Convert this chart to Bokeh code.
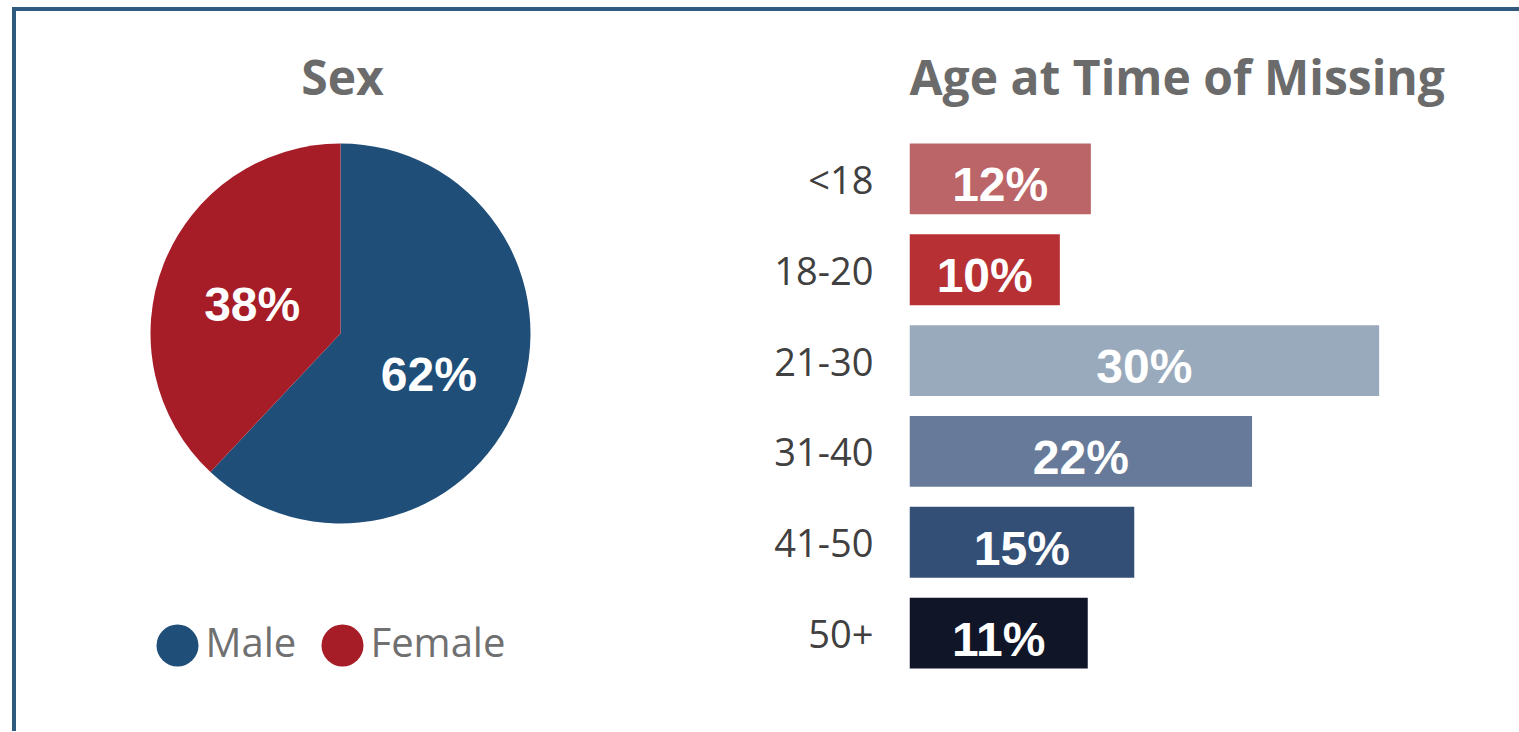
import math
from bokeh.plotting import figure
from bokeh.models import ColumnDataSource, Range1d, FactorRange
from bokeh.layouts import row
from bokeh.embed import file_html
from bokeh.resources import INLINE
from bokeh.core.properties import value

# ---------------- data ----------------
sex_categories = ["Male", "Female"]
sex_shares = [62, 38]
sex_labels = ["62%", "38%"]
sex_colors = ["#1F4E79", "#A61C27"]

age_groups = ["<18", "18-20", "21-30", "31-40", "41-50", "50+"]
age_shares = [11.7, 9.7, 30.3, 22.1, 14.5, 11.5]
age_labels = ["12%", "10%", "30%", "22%", "15%", "11%"]
age_colors = ["#BC6568", "#B73034", "#9AAABD", "#677A99", "#334F76", "#111528"]

# ---------------- style / layout ----------------
TITLE_COLOR = "#6B6B6B"
LEGEND_COLOR = "#707070"
CAT_COLOR = "#404040"
BORDER_COLOR = "#2E5A80"
H = 720
TOP, BOTTOM = 122, 53          # shared frame borders (row aligns frames)


def style_title(p, text, align):
    p.title.text = text
    p.title.text_font = "Open Sans"
    p.title.text_font_style = "bold"
    p.title.text_font_size = "48px"
    p.title.text_color = TITLE_COLOR
    p.title.align = align
    p.title.standoff = 50


# ---------------- pie ----------------
PIE_W = 700
PIE_RIGHT = 48
R = 190
CX, CY = 324, 322  # pie centre inside the figure (px from top-left)
pie = figure(width=PIE_W, height=H, output_backend="svg", toolbar_location=None,
             x_range=Range1d(-CX, PIE_W - PIE_RIGHT - CX),
             y_range=Range1d(-(H - BOTTOM - CY), CY - TOP),
             min_border_left=0, min_border_right=PIE_RIGHT,
             min_border_top=TOP, min_border_bottom=BOTTOM)
pie.axis.visible = False
pie.grid.visible = False
pie.outline_line_color = None
style_title(pie, "Sex", "center")

total = sum(sex_shares)
starts, ends, mids = [], [], []
acc = 0
for s in sex_shares:
    a0 = math.pi / 2 - 2 * math.pi * acc / total
    a1 = math.pi / 2 - 2 * math.pi * (acc + s) / total
    starts.append(a0)
    ends.append(a1)
    mids.append((a0 + a1) / 2)
    acc += s

LR = 95
pie_src = ColumnDataSource(dict(
    cat=sex_categories, share=sex_shares, label=sex_labels, color=sex_colors,
    start=starts, end=ends,
    lx=[LR * math.cos(m) for m in mids], ly=[LR * math.sin(m) for m in mids],
))
pie.wedge(x=0, y=0, radius=R, start_angle="start", end_angle="end", direction="clock",
          fill_color="color", line_color=None, source=pie_src)
pie.text(x="lx", y="ly", text="label", source=pie_src, text_color="white",
         text_font=value("Liberation Sans"), text_font_style="bold", text_font_size="48px",
         text_align="center", text_baseline="middle", y_offset=6)

LEG_X = [-163, 2]
LEG_Y = -312
leg_src = ColumnDataSource(dict(x=LEG_X, tx=[x + 28 for x in LEG_X], cat=sex_categories, color=sex_colors))
pie.scatter(x="x", y=LEG_Y, size=42, marker="circle", fill_color="color", line_color=None, source=leg_src)
pie.text(x="tx", y=LEG_Y, text="cat", source=leg_src, text_color=LEGEND_COLOR,
         text_font=value("Open Sans"), text_font_size="40px",
         text_align="left", text_baseline="middle", y_offset=-4)

# ---------------- bars ----------------
BAR_W = 803
PX_PER_PCT = 15.5
LEFT = 193
bar = figure(width=BAR_W, height=H, output_backend="svg", toolbar_location=None,
             y_range=FactorRange(factors=age_groups[::-1]),
             x_range=Range1d(0, (BAR_W - LEFT) / PX_PER_PCT),
             min_border_left=LEFT, min_border_right=0, min_border_top=TOP, min_border_bottom=BOTTOM)
bar.xaxis.visible = False
bar.grid.visible = False
bar.outline_line_color = None
bar.yaxis.axis_line_color = None
bar.yaxis.major_tick_line_color = None
bar.yaxis.minor_tick_line_color = None
bar.yaxis.major_tick_out = 0
bar.yaxis.major_tick_in = 0
bar.yaxis.major_label_standoff = 36
bar.yaxis.major_label_text_font = "Open Sans"
bar.yaxis.major_label_text_font_size = "38px"
bar.yaxis.major_label_text_color = CAT_COLOR
style_title(bar, "Age at Time of Missing", "left")

bar_src = ColumnDataSource(dict(grp=age_groups, share=age_shares, label=age_labels, color=age_colors,
                                mid=[v / 2 for v in age_shares]))
bar.hbar(y="grp", left=0, right="share", height=0.78, fill_color="color", line_color=None, source=bar_src)
bar.text(x="mid", y="grp", text="label", source=bar_src, text_color="white",
         text_font=value("Liberation Sans"), text_font_style="bold", text_font_size="48px",
         text_align="center", text_baseline="middle", y_offset=6)

layout = row(pie, bar, styles={"border-left": f"4px solid {BORDER_COLOR}",
                               "border-top": f"4px solid {BORDER_COLOR}",
                               "margin-left": "12px", "margin-top": "7px"})

open("out.html", "w").write(file_html(layout, INLINE))
